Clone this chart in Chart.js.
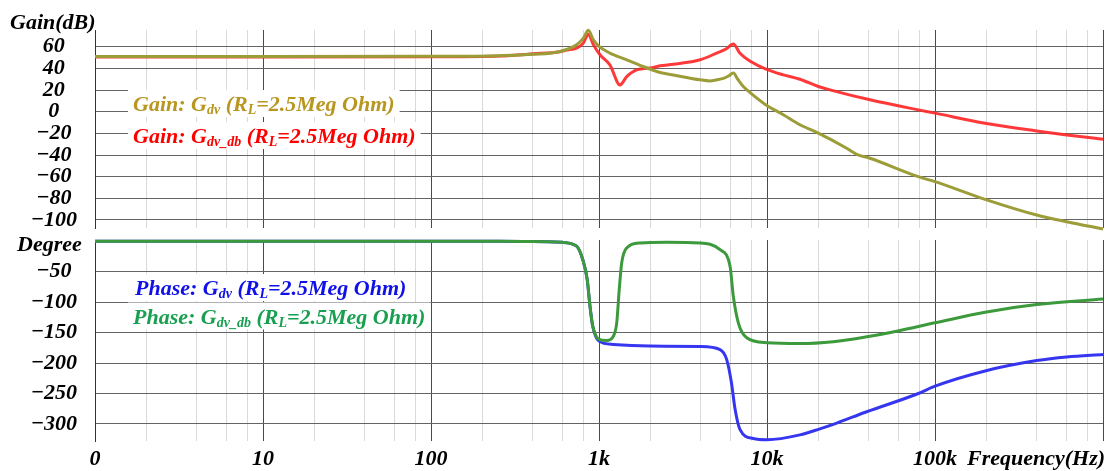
<!DOCTYPE html>
<html><head><meta charset="utf-8">
<script src="https://cdn.jsdelivr.net/npm/chart.js@4/dist/chart.umd.min.js"></script>
<style>
html,body{margin:0;padding:0;background:#fff;}
#wrap{position:relative;width:1111px;height:471px;overflow:hidden;}
#c1{position:absolute;left:0;top:0;}
#c2{position:absolute;left:0;top:232px;}
</style></head><body>
<div id="wrap">
<canvas id="c1" width="1111" height="232"></canvas>
<canvas id="c2" width="1111" height="239"></canvas>
</div>
<script>
// ---------- data ----------
const decades = [1, 10, 100, 1000, 10000, 100000, 1000000];
const decadeLabels = ['0', '10', '100', '1k', '10k', '100k', ''];
const minorSteps = [2, 4, 6, 8];
const gainTicks = [60, 40, 20, 0, -20, -40, -60, -80, -100];
const phaseTicks = [-50, -100, -150, -200, -250, -300];

const gainDvFreq = [1, 10, 100, 257, 405, 586, 736, 807, 864, 925, 1000, 1161, 1462, 1835, 2308, 2768, 4000, 4580, 5020, 5500, 5900, 6300, 6700, 7230, 8000, 9860, 12500, 15700, 20200, 29800, 34200, 41000, 79600, 100000, 198600, 403000, 608000, 1000000];
const gainDvVal  = [51, 51, 51.2, 51.8, 53, 55.7, 61.9, 68, 75.3, 66.5, 60.3, 54.2, 48, 41.8, 36.2, 34, 29.5, 28.5, 29.5, 30.8, 33, 35.7, 30, 23.3, 17.2, 6.3, -2.8, -12, -19.8, -33.7, -39.4, -43, -60, -64.6, -80.9, -95.4, -101.6, -108.3];

const gainDvDbFreq = [1, 10, 100, 257, 405, 586, 642, 736, 807, 864, 925, 1014, 1161, 1333, 1462, 1675, 2013, 2308, 2768, 4000, 5020, 5700, 6300, 6900, 8000, 9860, 12500, 15700, 20200, 23700, 41000, 79600, 100000, 198600, 403000, 608000, 1000000];
const gainDvDbVal  = [50.6, 50.6, 50.8, 51.5, 53.5, 55.5, 57, 58.8, 63.4, 71.5, 62, 52.6, 43.3, 24.8, 32.5, 38.7, 40.3, 42.4, 43.8, 48, 54.2, 58, 62.5, 54, 46.4, 39.4, 34.1, 30, 23.3, 20.2, 11, 1.7, -1.3, -10.6, -17.7, -21.4, -25.4];

const phaseDvFreq = [1, 100, 257, 400, 600, 736, 800, 851, 884, 917, 1000, 1217, 2000, 4000, 5250, 5750, 6140, 6457, 6900, 8280, 10000, 15700, 20650, 24800, 39200, 79600, 100000, 198600, 403000, 608000, 1000000];
const phaseDvVal  = [0, 0, 0, -0.5, -1.8, -8, -30, -63, -107, -139, -164, -169.5, -172, -173, -178, -194, -232, -276, -309, -324, -326, -318, -308, -300.7, -280, -250, -238, -213, -196, -190, -186];

const phaseDvDbFreq = [1, 100, 257, 400, 600, 736, 800, 851, 884, 917, 1000, 1111, 1217, 1275, 1320, 1365, 1462, 1754, 2529, 4000, 5250, 6025, 6300, 6750, 7570, 10000, 15700, 24800, 39200, 59100, 100000, 198600, 403000, 1000000];
const phaseDvDbVal  = [0, 0, 0, -0.5, -1.8, -8, -30, -63, -107, -139, -161, -163, -156, -134, -79, -35.6, -11, -2.8, -1.8, -2.8, -13.8, -41, -90, -134, -158.5, -166.7, -168, -165, -157, -147.7, -134, -116.5, -104, -95];

// ---------- helpers ----------
const toXY = (f, v) => f.map((x, i) => ({ x: x, y: v[i] }));
const FONT = 'Liberation Serif, Times New Roman, serif';
const tickFont = { family: FONT, size: 22, weight: 'bold', style: 'italic' };
const fmtMinus = v => (v < 0 ? '\u2212' + Math.abs(v) : String(v));

// vertical log grid, positioned through the chart's own x scale
const logGrid = {
  id: 'logGrid',
  beforeDraw(chart) {
    const ctx = chart.ctx, a = chart.chartArea, sx = chart.scales.x;
    ctx.save();
    ctx.lineWidth = 1;
    const line = (v, col) => {
      const px = Math.round(sx.getPixelForValue(v)) + 0.5;
      ctx.strokeStyle = col;
      ctx.beginPath(); ctx.moveTo(px, a.top); ctx.lineTo(px, a.bottom); ctx.stroke();
    };
    decades.forEach((d, i) => {
      if (i < decades.length - 1) minorSteps.forEach(m => line(d * m, '#d9d9d9'));
    });
    decades.forEach(d => line(d, '#4a4a4a'));
    ctx.restore();
  }
};

function drawRich(ctx, x, base, parts, color) {
  let w = 0;
  parts.forEach(p => {
    ctx.font = 'italic bold ' + (p[1] ? 14 : 22) + 'px ' + FONT;
    w += ctx.measureText(p[0]).width;
  });
  ctx.fillStyle = '#fff';
  ctx.fillRect(x - 5, base - 21, w + 10, 27);
  ctx.fillStyle = color;
  ctx.textBaseline = 'alphabetic';
  ctx.textAlign = 'left';
  let cx = x;
  parts.forEach(p => {
    ctx.font = 'italic bold ' + (p[1] ? 14 : 22) + 'px ' + FONT;
    ctx.fillText(p[0], cx, base + (p[1] ? 3 : 0));
    cx += ctx.measureText(p[0]).width;
  });
}
const legendDv   = t => [[t + ': G', 0], ['dv', 1], [' (R', 0], ['L', 1], ['=2.5Meg Ohm)', 0]];
const legendDvDb = t => [[t + ': G', 0], ['dv_db', 1], [' (R', 0], ['L', 1], ['=2.5Meg Ohm)', 0]];

function xScale(showLabels, h) {
  return {
    type: 'logarithmic', min: 1, max: 1000000,
    afterBuildTicks: s => { s.ticks = decades.map(v => ({ value: v })); },
    afterFit: s => { s.height = h; s.paddingLeft = 0; s.paddingRight = 0; },
    border: { display: false },
    grid: { display: false, drawTicks: false },
    ticks: {
      display: showLabels, autoSkip: false, maxRotation: 0, minRotation: 0,
      padding: 5, color: '#000', font: tickFont,
      callback: v => { const i = decades.indexOf(v); return i >= 0 ? decadeLabels[i] : ''; }
    }
  };
}
function yScale(min, max, ticks) {
  return {
    type: 'linear', min: min, max: max,
    afterBuildTicks: s => { s.ticks = ticks.map(v => ({ value: v })); },
    afterFit: s => { s.width = 95; s.paddingTop = 0; s.paddingBottom = 0; },
    border: { display: true, color: '#333', width: 1 },
    grid: { drawTicks: false, color: '#646464', lineWidth: 1 },
    ticks: { autoSkip: false, crossAlign: 'center', padding: 18, color: '#000', font: tickFont, callback: v => fmtMinus(v) }
  };
}
const lineDs = (label, data, color) => ({
  label: label, data: data, borderColor: color, borderWidth: 3, pointRadius: 0,
  cubicInterpolationMode: 'monotone', fill: false, clip: false
});

// ---------- gain chart ----------
new Chart(document.getElementById('c1'), {
  type: 'line',
  data: { datasets: [
    lineDs('Gain: Gdv', toXY(gainDvFreq, gainDvVal), '#9c9c38'),
    lineDs('Gain: Gdv_db', toXY(gainDvDbFreq, gainDvDbVal), 'rgba(255,40,40,0.92)')
  ] },
  options: {
    responsive: false, animation: false, events: [],
    layout: { padding: { top: 30, right: 8, bottom: 0, left: 0 } },
    plugins: { legend: { display: false }, tooltip: { enabled: false } },
    scales: { x: xScale(false, 4), y: yScale(-107.4, 75.5, gainTicks) }
  },
  plugins: [logGrid, {
    id: 'gainText',
    beforeDatasetsDraw(chart) {
      const ctx = chart.ctx;
      ctx.save();
      drawRich(ctx, 133, 111, legendDv('Gain'), '#b89620');
      drawRich(ctx, 133, 143, legendDvDb('Gain'), '#ff0000');
      ctx.restore();
    },
    afterDraw(chart) {
      const ctx = chart.ctx;
      ctx.save();
      ctx.font = 'italic bold 22px ' + FONT;
      ctx.fillStyle = '#000';
      ctx.textAlign = 'left';
      ctx.textBaseline = 'alphabetic';
      ctx.fillText('Gain(dB)', 10, 29);
      ctx.restore();
    }
  }]
});

// ---------- phase chart ----------
new Chart(document.getElementById('c2'), {
  type: 'line',
  data: { datasets: [
    lineDs('Phase: Gdv_db', toXY(phaseDvDbFreq, phaseDvDbVal), '#3c9a3c'),
    lineDs('Phase: Gdv', toXY(phaseDvFreq, phaseDvVal), '#3636f0')
  ] },
  options: {
    responsive: false, animation: false, events: [],
    layout: { padding: { top: 8, right: 8, bottom: 0, left: 0 } },
    plugins: { legend: { display: false }, tooltip: { enabled: false } },
    scales: { x: xScale(true, 30), y: yScale(-328, 2, phaseTicks) }
  },
  plugins: [logGrid, {
    id: 'phaseText',
    beforeDatasetsDraw(chart) {
      const ctx = chart.ctx;
      ctx.save();
      drawRich(ctx, 135, 63, legendDv('Phase'), '#1010e8');
      drawRich(ctx, 133, 91.5, legendDvDb('Phase'), '#18a050');
      ctx.restore();
    },
    afterDraw(chart) {
      const ctx = chart.ctx;
      ctx.save();
      ctx.font = 'italic bold 22px ' + FONT;
      ctx.fillStyle = '#000';
      ctx.textAlign = 'left';
      ctx.textBaseline = 'alphabetic';
      ctx.fillText('Degree', 17, 19);
      ctx.fillText('Frequency(Hz)', 967, 233);
      ctx.restore();
    }
  }]
});
</script>
</body></html>
